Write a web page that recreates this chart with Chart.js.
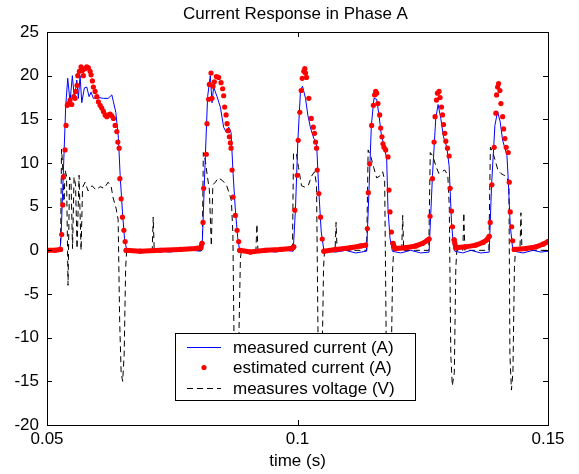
<!DOCTYPE html>
<html>
<head>
<meta charset="utf-8">
<title>Current Response in Phase A</title>
<script src="https://cdn.jsdelivr.net/npm/chart.js"></script>
<style>
  html, body { margin: 0; padding: 0; background: #fff; }
  #wrap { width: 579px; height: 474px; }
</style>
</head>
<body>
<div id="wrap"><canvas id="phaseChart" width="579" height="474"></canvas></div>
<script>
(function() {
    'use strict';

    // axis ticks
    const xTicks = [0.05, 0.1, 0.15];
    const yTicks = [-20, -15, -10, -5, 0, 5, 10, 15, 20, 25];

    // measured current (A)
    const measT = [0.05, 0.0516, 0.0526, 0.0528, 0.05374, 0.05414, 0.0546, 0.05506, 0.05546, 0.05594, 0.05626, 0.0566,
        0.05694, 0.05746, 0.05794, 0.0584, 0.0588, 0.05926, 0.06026, 0.06126, 0.0622, 0.06294, 0.06326, 0.06374,
        0.06426, 0.0646, 0.06506, 0.06546, 0.06594,
        0.0686, 0.0716, 0.0746, 0.0776, 0.0806, 0.08094,
        0.0816, 0.08206, 0.0826, 0.08294, 0.08326, 0.08394, 0.0846, 0.08526, 0.0858, 0.08626, 0.08674, 0.08714,
        0.0876, 0.08806, 0.08846,
        0.0906, 0.093, 0.0956, 0.0976, 0.09914,
        0.0996, 0.10006, 0.1006, 0.1010, 0.1016, 0.10206, 0.1026, 0.10326, 0.1038, 0.10426, 0.10474, 0.10526,
        0.1076, 0.1096, 0.1116, 0.1138,
        0.11426, 0.11474, 0.11526, 0.1158, 0.11626, 0.11674, 0.11726, 0.1178, 0.11806, 0.11846, 0.11894,
        0.1206, 0.1226, 0.1246, 0.12626,
        0.12694, 0.1276, 0.12806, 0.1286, 0.12914, 0.1298, 0.13026, 0.13074, 0.13114, 0.1314,
        0.133, 0.1346, 0.1366, 0.13826,
        0.13874, 0.1394, 0.13994, 0.14046, 0.14094, 0.1418, 0.14206, 0.14246, 0.14294, 0.14326,
        0.145, 0.147, 0.1486, 0.15];
    const measI = [0, 0, 0.1, 1.5, 16.6, 19.7, 17, 20, 17.4, 19.5, 17.4, 20,
        16.9, 18.6, 18.7, 17.6, 18.1, 17.4, 17.5, 17.4, 17.4, 17.8, 17, 15.8,
        12.8, 8.6, 4.4, 1.4, -0.1,
        -0.2, 0, -0.2, 0.1, -0.1, 0,
        10.7, 17.6, 20, 16.9, 18.7, 17.6, 16.4, 14.1, 13.5, 14.1, 13.5, 8.8,
        4.6, 1.5, -0.1,
        -0.2, 0, -0.2, 0, -0.1,
        4.8, 12.4, 18.3, 18.8, 17.4, 15.5, 14, 12.8, 12.4, 6.7, 2.1, 0,
        -0.2, 0, -0.3, -0.1,
        6.7, 14.3, 17.4, 17.3, 15.5, 13.2, 12, 10.5, 4.8, 1.4, -0.1,
        -0.3, 0, -0.3, -0.2,
        8.6, 15.1, 16.7, 15.1, 13, 11.8, 9.7, 3.2, 0.4, -0.1,
        -0.3, 0, -0.3, -0.2,
        7.5, 14.3, 15.9, 14.7, 12.6, 10.9, 8.2, 2.9, 0.2, -0.1,
        -0.3, 0, -0.2, -0.1];

    // estimated current (A)
    const estT = [0.05, 0.0516, 0.0527,
        0.05294, 0.05314, 0.05326, 0.0536, 0.0538, 0.05406, 0.05426, 0.0546, 0.05494, 0.05534, 0.0556, 0.05574,
        0.056, 0.05614, 0.05646, 0.0568, 0.05706, 0.05726, 0.0576, 0.05794, 0.05826, 0.0586, 0.0588, 0.05906,
        0.05926, 0.0596, 0.05994, 0.06026, 0.0606, 0.06094, 0.06126, 0.0616, 0.06194, 0.06226, 0.0626, 0.06294,
        0.06326, 0.0636, 0.06394, 0.06414, 0.0644, 0.06454, 0.0648, 0.06506, 0.06534, 0.0656, 0.0658,
        0.0686, 0.0726, 0.0766, 0.0796, 0.0807,
        0.08094, 0.08114, 0.08126, 0.0818, 0.08194, 0.08226, 0.0824, 0.08274, 0.08294, 0.08314, 0.0834, 0.0838,
        0.08426, 0.08474, 0.08506, 0.08526, 0.08546, 0.08574, 0.08594, 0.08614, 0.0864, 0.0866, 0.08674, 0.08694,
        0.08714, 0.0876, 0.08794, 0.08826, 0.08846,
        0.0906, 0.0936, 0.0966, 0.0986, 0.09906,
        0.09926, 0.09946, 0.09994, 0.10014, 0.10046, 0.10074, 0.10094, 0.10126, 0.10146, 0.1016, 0.1018, 0.10226,
        0.10274, 0.10314, 0.1034, 0.1036, 0.1038, 0.10394, 0.10426, 0.1046, 0.10494, 0.10526,
        0.1076, 0.1106, 0.1126, 0.1136,
        0.11394, 0.11414, 0.1144, 0.1148, 0.11514, 0.1154, 0.1156, 0.1158, 0.11606, 0.1164, 0.1166, 0.11686,
        0.11706, 0.11726, 0.1176, 0.11806, 0.11826, 0.11846, 0.11874, 0.11906, 0.11946,
        0.1216, 0.1236, 0.125, 0.1258, 0.12626,
        0.12646, 0.12694, 0.12726, 0.12746, 0.12774, 0.12794, 0.12826, 0.12846, 0.12874, 0.12894, 0.12914, 0.1294,
        0.1296, 0.12994, 0.13026, 0.13046, 0.13074, 0.13094, 0.13126, 0.1316,
        0.1336, 0.1356, 0.137, 0.1378, 0.13826,
        0.13846, 0.1388, 0.13926, 0.1396, 0.13974, 0.13994, 0.14014, 0.1404, 0.1406, 0.14094, 0.14114, 0.1414,
        0.14166, 0.14206, 0.14226, 0.14246, 0.14274, 0.14294, 0.14326,
        0.1456, 0.1476, 0.149, 0.15];
    const estI = [0, 0, 0.1,
        1.8, 5.2, 8.4, 11.5, 14.3, 16.6, 16.8, 17.2, 16.7, 17.6, 17.4, 18.2,
        18.9, 20, 20.5, 21, 20.6, 20, 20.8, 21, 20.9, 20.5, 20.1, 19.4,
        18.7, 18.2, 17.6, 17, 16.6, 16.3, 15.9, 15.5, 15.3, 15.5, 15.6, 15.4,
        15.1, 14.3, 13.6, 12.4, 11.7, 8.2, 5.9, 3.8, 2.3, 1, 0,
        -0.1, 0, 0.1, 0.2, 0.3,
        0.8, 3.2, 7.1, 11, 14.5, 17.3, 19, 20.3, 17.4, 18.8, 19.3, 19.9,
        19.8, 19.2, 18.5, 17.7, 16.4, 15.5, 14.5, 13.7, 13, 12.3, 11.7, 9.2,
        6.1, 4, 2.3, 1, 0,
        -0.2, 0, 0.1, 0.2, 0.3,
        0.4, 4.6, 8.6, 12.6, 15.8, 18.3, 19.7, 20.5, 20.8, 20.3, 19.8, 17.4,
        15.1, 14.1, 13.4, 12.4, 11.7, 9.2, 6.5, 3.8, 1.3, -0.1,
        0.1, 0.3, 0.5, 0.6,
        2.5, 6.6, 9.9, 14.3, 16.6, 17.8, 18.2, 18, 16.8, 15.5, 14, 13,
        12.2, 11.8, 11.5, 10.7, 6.9, 4.4, 2.1, 0.8, 0.2,
        0.3, 0.5, 0.8, 1.1, 1.3,
        3.9, 8.2, 12.4, 15.3, 17.2, 18, 18.2, 17.5, 16.4, 15.5, 14.4, 13.4,
        12.5, 11.7, 10.8, 7.1, 4.5, 2.7, 1.2, 0.3,
        0.4, 0.6, 0.9, 1.2, 1.6,
        3.2, 7.5, 11.8, 15.7, 17.8, 18.7, 19.1, 18.3, 16.8, 15.3, 13.9, 12.8,
        11.8, 11.2, 7.8, 4.4, 2.7, 1.1, 0.1,
        0.2, 0.4, 0.7, 1.0];

    // measured voltage (V)
    const voltT = [0.05, 0.0527, 0.0529, 0.0531, 0.0534, 0.0536, 0.0539, 0.0542, 0.0545, 0.0548, 0.0551, 0.0554,
        0.0557, 0.056, 0.0564, 0.0568, 0.0571, 0.0576, 0.0582, 0.059, 0.0598, 0.0606, 0.0614, 0.0622, 0.0628,
        0.0632, 0.0638, 0.0642, 0.0645, 0.0648, 0.0651, 0.0654, 0.0657, 0.0659,
        0.0686, 0.071, 0.0712, 0.0714, 0.0756, 0.0808,
        0.081, 0.0812, 0.0816, 0.082, 0.0824, 0.0828, 0.0831, 0.0836, 0.0842, 0.085, 0.0858, 0.0864, 0.0868,
        0.0871, 0.0874, 0.0878, 0.0882, 0.0886, 0.0888,
        0.0917, 0.0919, 0.0921, 0.0946, 0.099,
        0.0992, 0.0998, 0.1002, 0.1008, 0.1016, 0.1022, 0.1028, 0.1034, 0.1038, 0.1041, 0.1045, 0.1049, 0.1052, 0.1054,
        0.1075, 0.1077, 0.1079, 0.1106, 0.1138,
        0.1141, 0.1146, 0.1152, 0.1158, 0.1164, 0.117, 0.1174, 0.1177, 0.1182, 0.1187, 0.119, 0.1192,
        0.1208, 0.121, 0.1212, 0.1236, 0.1262,
        0.1265, 0.127, 0.1276, 0.1282, 0.1288, 0.1294, 0.13, 0.1303, 0.1306, 0.1309, 0.1313, 0.1316, 0.1318,
        0.133, 0.1332, 0.1334, 0.1356, 0.1382,
        0.1385, 0.139, 0.1396, 0.14, 0.1406, 0.1412, 0.1418, 0.1422, 0.1424, 0.1427, 0.143, 0.1433, 0.1435,
        0.1444, 0.1446, 0.1448, 0.1476, 0.15];
    const voltV = [0, 0, 11.6, 10, 5, 9.2, 8.5, -4, 8.4, 7.8, 0.2, 8.4,
        7.5, 0.2, 8.6, 0, 7.2, 7.8, 6.8, 7.4, 6.9, 7.3, 7.1, 7.8, 7.3,
        6, 4.8, 3.5, -8, -14, -15, -12, -2, 0,
        0, 0, 3.8, 0, 0, 0,
        0, 11.2, 10.3, 8.5, 7, 0.5, 7.5, 7.8, 8.3, 8, 7.5, 6.5, 5.7,
        2, -14, -15, -13, -1, 0,
        0, 3, 0, 0, 0,
        11.2, 11, 9.5, 7.4, 7.2, 7.5, 8.5, 9, 7.5, -10, -15, -13, -2, 0,
        0, 3.2, 0, 0, 0,
        11.5, 10.8, 9.5, 8.3, 8.5, 9, 8, -10, -15, -13, -2, 0,
        0, 4, 0, 0, 0,
        11.2, 10.8, 9.7, 8.8, 9, 9.2, 8.6, 5, -12, -15.5, -14, -2, 0,
        0, 4.3, 0, 0, 0,
        11.8, 11.2, 10, 9.2, 8.8, 8.6, 8.4, 7.5, -12, -16, -14, -2, 0,
        0, 4.3, 0, 0, 0];

    const seriesLabels = ['measured current (A)', 'estimated current (A)', 'measures voltage (V)'];

    const FONT = '"Liberation Sans", Arial, sans-serif';
    const toPoints = (ts, vs) => ts.map((t, i) => ({ x: t, y: vs[i] }));

    // plot box like matlab: frame + inward ticks
    const boxPlugin = {
        id: 'matlabBox',
        afterDatasetsDraw(chart) {
            const { ctx, chartArea: a, scales } = chart;
            ctx.save();
            ctx.strokeStyle = '#000';
            ctx.lineWidth = 1;
            ctx.beginPath();
            xTicks.forEach(v => {
                const px = Math.round(scales.x.getPixelForValue(v)) + 0.5;
                ctx.moveTo(px, a.bottom); ctx.lineTo(px, a.bottom - 5);
                ctx.moveTo(px, a.top); ctx.lineTo(px, a.top + 5);
            });
            yTicks.forEach(v => {
                const py = Math.round(scales.y.getPixelForValue(v)) + 0.5;
                ctx.moveTo(a.left, py); ctx.lineTo(a.left + 5, py);
                ctx.moveTo(a.right, py); ctx.lineTo(a.right - 5, py);
            });
            ctx.stroke();
            ctx.strokeRect(Math.round(a.left) + 0.5, Math.round(a.top) + 0.5,
                Math.round(a.right - a.left), Math.round(a.bottom - a.top));

            // legend box inside the axes
            const lx = 175.5, ly = 333.5, lw = 240, lh = 67;
            ctx.fillStyle = '#fff';
            ctx.fillRect(lx, ly, lw, lh);
            ctx.strokeRect(lx, ly, lw, lh);
            const rows = [347, 367.5, 388];
            ctx.font = '17px ' + FONT;
            ctx.textBaseline = 'middle';
            ctx.textAlign = 'left';

            ctx.strokeStyle = '#0000ff';
            ctx.beginPath();
            ctx.moveTo(187, rows[0] + 0.5); ctx.lineTo(221, rows[0] + 0.5);
            ctx.stroke();

            ctx.fillStyle = '#ff0000';
            ctx.beginPath();
            ctx.arc(204, rows[1], 2.6, 0, Math.PI * 2);
            ctx.fill();

            ctx.strokeStyle = '#000';
            ctx.setLineDash([6, 4]);
            ctx.beginPath();
            ctx.moveTo(187, rows[2] + 0.5); ctx.lineTo(221, rows[2] + 0.5);
            ctx.stroke();
            ctx.setLineDash([]);

            ctx.fillStyle = '#000';
            seriesLabels.forEach((txt, i) => ctx.fillText(txt, 233, rows[i] + 1));

            // title
            ctx.textAlign = 'center';
            ctx.fillText('Current Response in Phase A', (a.left + a.right) / 2 - 2, 14);
            ctx.restore();
        }
    };

    const canvas = document.getElementById('phaseChart');
    new Chart(canvas.getContext('2d'), {
        type: 'line',
        data: {
            datasets: [
                {
                    label: seriesLabels[0],
                    data: toPoints(measT, measI),
                    borderColor: '#0000ff',
                    borderWidth: 1,
                    pointRadius: 0,
                    tension: 0,
                    order: 1
                },
                {
                    label: seriesLabels[1],
                    data: toPoints(estT, estI),
                    borderColor: '#ff0000',
                    borderWidth: 5,
                    borderCapStyle: 'round',
                    pointRadius: 2.6,
                    pointBorderWidth: 0,
                    pointBackgroundColor: '#ff0000',
                    tension: 0,
                    order: 0,
                    // dense dots near zero merge into a thick band
                    segment: {
                        borderColor: c => {
                            const a = c.p0.parsed.y, b = c.p1.parsed.y;
                            return (Math.abs(a) < 1.7 && Math.abs(b) < 1.7 && Math.abs(a - b) < 1)
                                ? '#ff0000' : 'rgba(0,0,0,0)';
                        }
                    }
                },
                {
                    label: seriesLabels[2],
                    data: toPoints(voltT, voltV),
                    borderColor: '#000',
                    borderWidth: 1,
                    borderDash: [6, 4],
                    pointRadius: 0,
                    tension: 0,
                    order: 2
                }
            ]
        },
        options: {
            responsive: false,
            animation: false,
            devicePixelRatio: 1,
            events: [],
            layout: { padding: { top: 32, right: 31, bottom: 0, left: 0 } },
            scales: {
                x: {
                    type: 'linear',
                    min: 0.05,
                    max: 0.15,
                    afterBuildTicks: s => { s.ticks = xTicks.map(v => ({ value: v })); },
                    afterFit: s => { s.height = 49; },
                    grid: { display: false, drawTicks: false },
                    border: { display: false },
                    ticks: {
                        padding: 4,
                        color: '#000',
                        font: { family: FONT, size: 17 },
                        maxRotation: 0,
                        callback: v => String(+v.toFixed(2))
                    },
                    title: {
                        display: true,
                        text: 'time (s)',
                        color: '#000',
                        font: { family: FONT, size: 17 },
                        padding: { top: 0, bottom: 2 }
                    }
                },
                y: {
                    min: -20,
                    max: 25,
                    afterBuildTicks: s => { s.ticks = yTicks.map(v => ({ value: v })); },
                    afterFit: s => { s.width = 47; },
                    grid: { display: false, drawTicks: false },
                    border: { display: false },
                    ticks: {
                        padding: 8,
                        color: '#000',
                        font: { family: FONT, size: 17 }
                    }
                }
            },
            plugins: {
                legend: { display: false },
                title: { display: false },
                tooltip: { enabled: false }
            }
        },
        plugins: [boxPlugin]
    });
})();
</script>
</body>
</html>
